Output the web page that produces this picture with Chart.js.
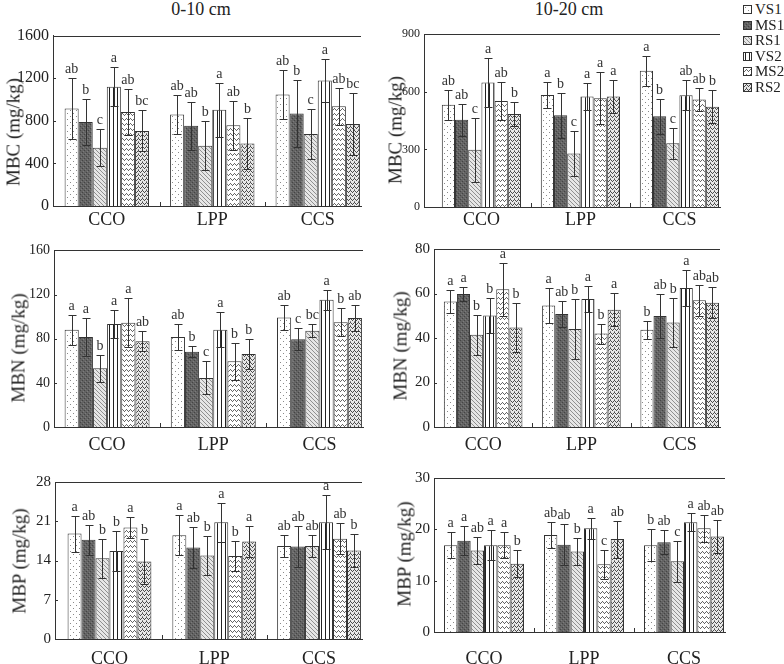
<!DOCTYPE html>
<html>
<head>
<meta charset="utf-8">
<script src="https://cdn.jsdelivr.net/npm/chart.js@4.4.1/dist/chart.umd.min.js"></script>
<style>
  body { margin: 0; width: 784px; height: 664px; position: relative; overflow: hidden; background: #fff;
         font-family: "Liberation Serif", "Times New Roman", serif; color: #222; }
  canvas { position: absolute; }
  .txt { position: absolute; white-space: nowrap; line-height: 1; transform: translate(-50%, -50%); }
  .ytitle { position: absolute; white-space: nowrap; line-height: 1; font-size: 19px;
            transform: translate(-50%, -50%) rotate(-90deg); }
  .leg { position: absolute; left: 743px; font-size: 15px; line-height: 1; display: flex; align-items: center; }
  .leg canvas { position: static; width: 7px; height: 7px; border: 1px solid #333; margin-right: 3px; }
</style>
</head>
<body>
<div class="txt" style="left:201px;top:9px;font-size:18px">0-10 cm</div>
<div class="txt" style="left:569px;top:9px;font-size:18px">10-20 cm</div>

<script>
const FONT = '"Liberation Serif", "Times New Roman", serif';
const categories = ["CCO", "LPP", "CCS"];
const treatments = ["VS1", "MS1", "RS1", "VS2", "MS2", "RS2"];

// rows = treatments, cols = categories
const mbcTopMean = [[916, 859, 1046], [788, 753, 868], [548, 566, 676], [1120, 904, 1179], [883, 759, 936], [705, 587, 770]];
const mbcTopErr = [[287, 187, 228], [219, 228, 311], [172, 228, 237], [184, 252, 201], [213, 231, 175], [193, 237, 291]];
const mbcTopSig = [["ab", "ab", "ab"], ["b", "ab", "b"], ["c", "b", "c"], ["a", "a", "a"], ["ab", "ab", "ab"], ["bc", "b", "bc"]];

const mbcSubMean = [[532, 583, 710], [455, 478, 473], [298, 278, 332], [648, 575, 582], [552, 567, 560], [485, 575, 522]];
const mbcSubErr = [[78, 67, 78], [83, 117, 92], [167, 117, 80], [129, 70, 78], [100, 135, 62], [63, 85, 85]];
const mbcSubSig = [["ab", "a", "a"], ["ab", "b", "b"], ["c", "c", "c"], ["a", "a", "ab"], ["ab", "a", "ab"], ["b", "a", "b"]];

const mbnTopMean = [[88.2, 81.6, 99.1], [81.6, 68.1, 79.6], [53.2, 44.5, 87.3], [93.4, 88.2, 115.2], [94.5, 59.5, 94.8], [77.6, 66.1, 98.8]];
const mbnTopErr = [[13.5, 12, 11.5], [17, 5, 10], [12, 15, 6], [13, 16, 9], [22, 17, 12.6], [9, 14, 12]];
const mbnTopSig = [["a", "ab", "ab"], ["a", "b", "c"], ["b", "c", "bc"], ["a", "a", "a"], ["a", "b", "b"], ["ab", "b", "ab"]];

const mbnSubMean = [[56.4, 54.6, 43.7], [59.8, 50.8, 49.9], [41.5, 44, 47], [50.1, 57.5, 62.5], [61.9, 42, 57], [44.7, 52.7, 55.8]];
const mbnSubErr = [[5, 8, 4], [3, 6, 10], [9, 13.5, 11], [8, 6, 8], [12, 4.5, 7], [11, 7.4, 7]];
const mbnSubSig = [["a", "a", "b"], ["a", "ab", "ab"], ["b", "b", "b"], ["b", "a", "a"], ["a", "b", "ab"], ["b", "a", "ab"]];

const mbpTopMean = [[18.8, 18.5, 16.6], [17.7, 16.3, 16.5], [14.4, 14.9, 16.6], [15.7, 20.8, 20.8], [19.9, 14.8, 17.9], [13.8, 17.4, 15.8]];
const mbpTopErr = [[3.2, 3.6, 1.9], [2.7, 3.7, 3.6], [3.5, 3.5, 1.9], [3.6, 3.5, 4.8], [1.8, 2.7, 2.7], [4, 2.7, 3]];
const mbpTopSig = [["a", "a", "ab"], ["ab", "ab", "ab"], ["b", "b", "ab"], ["b", "a", "a"], ["a", "b", "ab"], ["b", "a", "b"]];

const mbpSubMean = [[16.9, 18.9, 16.9], [17.8, 17, 17.5], [15.9, 15.7, 13.8], [16.9, 20.2, 21.4], [16.9, 13.2, 20.2], [13.3, 18.1, 18.6]];
const mbpSubErr = [[2.5, 2.6, 3.1], [2.8, 4, 2.3], [2.7, 2.6, 4], [2.9, 2.1, 1.7], [2.5, 2.8, 2.6], [2.6, 3.6, 3.3]];
const mbpSubSig = [["a", "ab", "b"], ["a", "ab", "ab"], ["ab", "b", "c"], ["a", "a", "a"], ["a", "c", "ab"], ["b", "ab", "ab"]];

// fill textures, one per treatment
function makePattern(kind) {
  const c = document.createElement("canvas");
  let g;
  if (kind === "dots") {
    c.width = 6; c.height = 6; g = c.getContext("2d");
    g.fillStyle = "#fff"; g.fillRect(0, 0, 6, 6);
    g.fillStyle = "#8a8a8a"; g.fillRect(1, 1, 1, 1); g.fillRect(4, 4, 1, 1);
  } else if (kind === "dark") {
    c.width = 4; c.height = 4; g = c.getContext("2d");
    g.fillStyle = "#636363"; g.fillRect(0, 0, 4, 4);
    g.fillStyle = "#444"; g.fillRect(0, 0, 1, 1); g.fillRect(2, 2, 1, 1);
    g.fillStyle = "#7c7c7c"; g.fillRect(1, 3, 1, 1); g.fillRect(3, 1, 1, 1);
  } else if (kind === "diag") {
    c.width = 4; c.height = 4; g = c.getContext("2d");
    g.fillStyle = "#e6e6e6"; g.fillRect(0, 0, 4, 4);
    g.fillStyle = "#909090";
    for (let i = 0; i < 4; i++) g.fillRect(i, i, 1, 1);
  } else if (kind === "vert") {
    c.width = 4; c.height = 2; g = c.getContext("2d");
    g.fillStyle = "#fff"; g.fillRect(0, 0, 4, 2);
    g.fillStyle = "#222"; g.fillRect(1, 0, 1, 2);
  } else if (kind === "wave") {
    c.width = 4; c.height = 5; g = c.getContext("2d");
    g.fillStyle = "#fff"; g.fillRect(0, 0, 4, 5);
    g.fillStyle = "#666";
    g.fillRect(0, 3, 1, 1); g.fillRect(1, 2, 1, 1); g.fillRect(2, 1, 1, 1); g.fillRect(3, 2, 1, 1);
  } else {
    c.width = 4; c.height = 4; g = c.getContext("2d");
    g.fillStyle = "#e8e8e8"; g.fillRect(0, 0, 4, 4);
    g.fillStyle = "#4a4a4a";
    g.fillRect(0, 2, 1, 1); g.fillRect(1, 1, 1, 1); g.fillRect(2, 0, 1, 1); g.fillRect(3, 1, 1, 1);
    g.fillStyle = "#888"; g.fillRect(2, 3, 1, 1);
  }
  return c;
}
const patternKinds = ["dots", "dark", "diag", "vert", "wave", "zig"];
const patternCanvases = patternKinds.map(makePattern);

const decor = {
  id: "decor",
  afterDatasetsDraw(chart) {
    const { ctx, chartArea: a, scales: { x, y } } = chart;
    ctx.save();
    ctx.strokeStyle = "#333";
    ctx.lineWidth = 1;
    ctx.beginPath();
    ctx.moveTo(a.left, Math.round(a.top) + 0.5);
    ctx.lineTo(a.right, Math.round(a.top) + 0.5);
    y.ticks.forEach((t) => {
      const py = Math.round(y.getPixelForValue(t.value)) + 0.5;
      ctx.moveTo(a.left, py);
      ctx.lineTo(a.left + 3, py);
    });
    [0.5, 1.5].forEach((v) => {
      const px = Math.round(x.getPixelForValue(v)) + 0.5;
      ctx.moveTo(px, a.bottom);
      ctx.lineTo(px, a.bottom - 4);
    });
    ctx.stroke();

    ctx.font = "14px " + FONT;
    ctx.fillStyle = "#333";
    ctx.textAlign = "center";
    ctx.textBaseline = "alphabetic";
    chart.data.datasets.forEach((ds, di) => {
      const meta = chart.getDatasetMeta(di);
      meta.data.forEach((bar, i) => {
        const v = ds.data[i].y, e = ds.errors[i];
        const top = Math.round(y.getPixelForValue(v + e)) + 0.5;
        const bot = Math.round(y.getPixelForValue(v - e)) + 0.5;
        const cx = Math.round(bar.x) + 0.5;
        ctx.beginPath();
        ctx.moveTo(cx, top); ctx.lineTo(cx, bot);
        ctx.moveTo(cx - 4, top); ctx.lineTo(cx + 4, top);
        ctx.moveTo(cx - 4, bot); ctx.lineTo(cx + 4, bot);
        ctx.stroke();
        ctx.fillText(ds.letters[i], bar.x, top - 6);
      });
    });
    ctx.restore();
  },
};

function addText(cls, text, cx, cy) {
  const d = document.createElement("div");
  d.className = cls;
  d.textContent = text;
  d.style.left = cx + "px";
  d.style.top = cy + "px";
  document.body.appendChild(d);
}

function panel(p) {
  const canvasLeft = p.left < 392 ? 0 : 392;
  const canvasTop = p.top - 4;
  const xH = 40;
  const cv = document.createElement("canvas");
  cv.width = 392;
  cv.height = p.bottom - canvasTop + xH;
  cv.style.left = canvasLeft + "px";
  cv.style.top = canvasTop + "px";
  document.body.appendChild(cv);
  addText("ytitle", p.title, p.titleX, p.titleY);

  const ctx = cv.getContext("2d");
  const datasets = treatments.map((name, t) => ({
    label: name,
    data: p.mean[t].map((v, i) => ({ x: i, y: v })),
    errors: p.err[t],
    letters: p.sig[t],
    backgroundColor: ctx.createPattern(patternCanvases[t], "repeat"),
    borderColor: "#333",
    borderWidth: 1,
  }));

  new Chart(cv, {
    type: "bar",
    data: { datasets },
    plugins: [decor],
    options: {
      responsive: false,
      animation: false,
      layout: { padding: { top: 4, right: canvasLeft + 392 - p.right, left: 0, bottom: 0 } },
      plugins: { legend: { display: false }, tooltip: { enabled: false } },
      datasets: { bar: { categoryPercentage: 0.8, barPercentage: 1 } },
      scales: {
        x: {
          type: "linear", min: p.xmin, max: 2.41, offset: false,
          afterBuildTicks: (s) => { s.ticks = [0, 1, 2].map((v) => ({ value: v })); },
          afterFit: (s) => { s.height = xH; },
          grid: { display: false, drawTicks: false },
          border: { color: "#333" },
          ticks: { padding: p.xpad, color: "#222", font: { family: FONT, size: 18 }, maxRotation: 0,
                   callback: (v) => categories[v] },
        },
        y: {
          min: 0, max: p.max,
          afterFit: (s) => { s.width = p.left - canvasLeft; },
          grid: { display: false, drawTicks: false },
          border: { color: "#333" },
          ticks: { stepSize: p.step, padding: 4, color: "#222", font: { family: FONT, size: p.tickSize },
                   callback: (v) => String(v) },
        },
      },
    },
  });
}

panel({ left: 53, right: 361, top: 26, bottom: 206, max: 1600, step: 400, xpad: 3, xmin: -0.51, tickSize: 16,
        mean: mbcTopMean, err: mbcTopErr, sig: mbcTopSig, title: "MBC (mg/kg)", titleX: 13, titleY: 132 });
panel({ left: 424, right: 720, top: 27, bottom: 207, max: 900, step: 300, xpad: 2, xmin: -0.58, tickSize: 12,
        mean: mbcSubMean, err: mbcSubErr, sig: mbcSubSig, title: "MBC (mg/kg)", titleX: 395, titleY: 130 });
panel({ left: 54, right: 363, top: 242, bottom: 427, max: 160, step: 40, xpad: 7, xmin: -0.5, tickSize: 14,
        mean: mbnTopMean, err: mbnTopErr, sig: mbnTopSig, title: "MBN (mg/kg)", titleX: 18, titleY: 348 });
panel({ left: 434, right: 720, top: 240, bottom: 427, max: 80, step: 20, xpad: 7, xmin: -0.5, tickSize: 15,
        mean: mbnSubMean, err: mbnSubErr, sig: mbnSubSig, title: "MBN (mg/kg)", titleX: 400, titleY: 346 });
panel({ left: 55, right: 362, top: 473, bottom: 639, max: 28, step: 7, xpad: 9, xmin: -0.52, tickSize: 15,
        mean: mbpTopMean, err: mbpTopErr, sig: mbpTopSig, title: "MBP (mg/kg)", titleX: 19, titleY: 561 });
panel({ left: 434, right: 725, top: 469, bottom: 632, max: 30, step: 10, xpad: 16, xmin: -0.5, tickSize: 15,
        mean: mbpSubMean, err: mbpSubErr, sig: mbpSubSig, title: "MBP (mg/kg)", titleX: 404, titleY: 554 });

// legend
const legendTops = [10, 25.6, 41.2, 56.8, 72.4, 88];
treatments.forEach((name, t) => {
  const row = document.createElement("div");
  row.className = "leg";
  row.style.top = (legendTops[t] - 8) + "px";
  const box = document.createElement("canvas");
  box.width = 7; box.height = 7;
  const g = box.getContext("2d");
  g.fillStyle = g.createPattern(patternCanvases[t], "repeat");
  g.fillRect(0, 0, 7, 7);
  row.appendChild(box);
  const span = document.createElement("span");
  span.textContent = name;
  row.appendChild(span);
  document.body.appendChild(row);
});
</script>
</body>
</html>
